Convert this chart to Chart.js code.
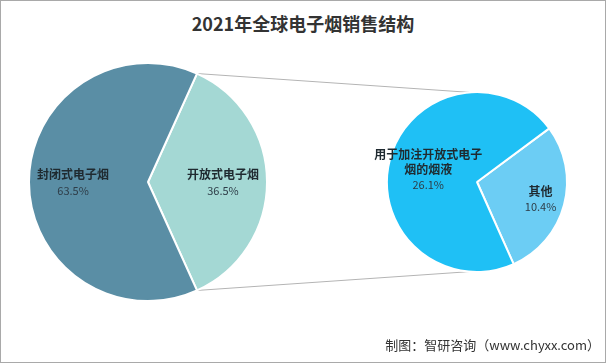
<!DOCTYPE html>
<html>
<head>
<meta charset="utf-8">
<script src="https://cdn.jsdelivr.net/npm/chart.js@4.4.0/dist/chart.umd.min.js"></script>
<style>
  body { margin: 0; width: 606px; height: 363px; overflow: hidden; background: #fff; font-family: "Noto Sans CJK SC", sans-serif; }
  #frame { position: absolute; left: 0; top: 0; width: 604px; height: 361px; border: 1px solid #a9a9a9; }
  #title { position: absolute; left: 0; top: 10px; width: 606px; text-align: center; font-size: 18px; line-height: 26px; font-weight: bold; color: #333; }
  #source { position: absolute; right: 6px; top: 335px; font-size: 13px; line-height: 20px; color: #333; }
  canvas { position: absolute; }
</style>
</head>
<body>
<div id="frame"></div>
<div id="title">2021年全球电子烟销售结构</div>
<canvas id="lines" width="606" height="363" style="left:0;top:0"></canvas>
<canvas id="mainPie" width="240" height="240" style="left:28px;top:62px"></canvas>
<canvas id="subPie" width="242" height="242" style="left:356px;top:61px"></canvas>
<div id="source">制图：智研咨询（www.chyxx.com）</div>
<script>
const mainLabels = ["开放式电子烟", "封闭式电子烟"];
const mainValues = [36.5, 63.5];
const subLabels = ["其他", "用于加注开放式电子烟的烟液"];
const subValues = [10.4, 26.1];

const mainColors = ["#a4d8d4", "#5a8ea5"];
const subColors = ["#6ccdf4", "#1fc0f5"];

// draw name + percent inside each slice
const sliceLabels = {
  id: "sliceLabels",
  afterDatasetsDraw(chart, args, opts) {
    const ctx = chart.ctx;
    const arcs = chart.getDatasetMeta(0).data;
    const values = chart.data.datasets[0].data;
    arcs.forEach((arc, i) => {
      const mid = (arc.startAngle + arc.endAngle) / 2;
      const d = arc.outerRadius * opts.offsets[i];
      const x = arc.x + Math.cos(mid) * d;
      const y = arc.y + Math.sin(mid) * d;

      ctx.save();
      ctx.textAlign = "center";
      ctx.textBaseline = "middle";
      ctx.font = "bold 12px 'Noto Sans CJK SC'";
      // wrap long names
      let name = chart.data.labels[i];
      let lines = [];
      let cur = "";
      for (const ch of name) {
        if (ctx.measureText(cur + ch).width > 112) {
          lines.push(cur);
          cur = ch;
        } else {
          cur += ch;
        }
      }
      lines.push(cur);
      const lh = 15;
      const total = lines.length + 1;
      let y0 = y - (total - 1) * lh / 2;
      ctx.fillStyle = "#1f2a30";
      lines.forEach((l, k) => ctx.fillText(l, x, y0 + k * lh));
      ctx.font = "11px 'Noto Sans CJK SC'";
      ctx.fillStyle = "#2e3d48";
      ctx.fillText(values[i].toFixed(1) + "%", x, y0 + lines.length * lh + 1);
      ctx.restore();
    });
  }
};

function pieOptions(rotation, offsets, pad) {
  return {
    responsive: false,
    animation: false,
    events: [],
    rotation: rotation,
    layout: { padding: pad },
    plugins: {
      legend: { display: false },
      tooltip: { enabled: false },
      sliceLabels: { offsets: offsets }
    }
  };
}

const mainTotal = mainValues.reduce((a, b) => a + b, 0);
const mainChart = new Chart(document.getElementById("mainPie"), {
  type: "pie",
  data: {
    labels: mainLabels,
    datasets: [{
      data: mainValues,
      backgroundColor: mainColors,
      borderColor: "#ffffff",
      borderWidth: 2
    }]
  },
  options: pieOptions(90 - mainValues[0] / mainTotal * 180, [0.63, 0.63], 0),
  plugins: [sliceLabels]
});

const subChart = new Chart(document.getElementById("subPie"), {
  type: "pie",
  data: {
    labels: subLabels,
    datasets: [{
      data: subValues,
      backgroundColor: subColors,
      borderColor: "#ffffff",
      borderWidth: 2
    }]
  },
  options: pieOptions(53.4, [0.73, 0.56], 30),
  plugins: [sliceLabels]
});

// connector lines from the open slice to the second pie
function drawConnectors() {
  const ctx = document.getElementById("lines").getContext("2d");
  const mc = mainChart.canvas, sc = subChart.canvas;
  const a = mainChart.getDatasetMeta(0).data[0];
  const b = subChart.getDatasetMeta(0).data[0];
  const p1 = [mc.offsetLeft + a.x + Math.cos(a.startAngle) * a.outerRadius, mc.offsetTop + a.y + Math.sin(a.startAngle) * a.outerRadius];
  const p2 = [mc.offsetLeft + a.x + Math.cos(a.endAngle) * a.outerRadius, mc.offsetTop + a.y + Math.sin(a.endAngle) * a.outerRadius];
  const t = -95 * Math.PI / 180;
  const q1 = [sc.offsetLeft + b.x + Math.cos(t) * b.outerRadius, sc.offsetTop + b.y + Math.sin(t) * b.outerRadius];
  const q2 = [sc.offsetLeft + b.x + Math.cos(-t) * b.outerRadius, sc.offsetTop + b.y + Math.sin(-t) * b.outerRadius];
  ctx.strokeStyle = "#b4b4b4";
  ctx.lineWidth = 1;
  ctx.beginPath();
  ctx.moveTo(p1[0], p1[1]);
  ctx.lineTo(q1[0], q1[1]);
  ctx.moveTo(p2[0], p2[1]);
  ctx.lineTo(q2[0], q2[1]);
  ctx.stroke();
}
drawConnectors();
</script>
</body>
</html>
